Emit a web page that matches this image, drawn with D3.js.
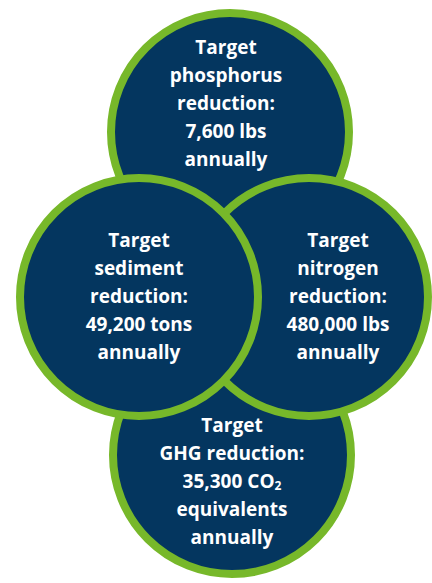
<!DOCTYPE html>
<html>
<head>
<meta charset="utf-8">
<script src="https://cdn.jsdelivr.net/npm/d3@7"></script>
<style>
  html, body { margin: 0; padding: 0; background: #fff; }
  svg { display: block; }
  .label { font-family: 'Open Sans', sans-serif; font-weight: 700; fill: #fff; }
</style>
</head>
<body>
<svg id="chart"></svg>
<script>
// targets, in the order the circles are stacked (back to front)
const targets = ['phosphorus', 'GHG', 'nitrogen', 'sediment'];
const labelLines = [
  ['Target', 'phosphorus', 'reduction:', '7,600 lbs', 'annually'],
  ['Target', 'GHG reduction:', '35,300 CO₂', 'equivalents', 'annually'],
  ['Target', 'nitrogen', 'reduction:', '480,000 lbs', 'annually'],
  ['Target', 'sediment', 'reduction:', '49,200 tons', 'annually'],
];

const width = 432;
const height = 583;
const navy = '#04365f';
const green = '#77b82a';

// layout of the cluster (circle centres and text anchors)
const layout = {
  phosphorus: { cx: 230, cy: 132, tx: 226, ty: 110 },
  GHG: { cx: 232, cy: 455, tx: 232, ty: 488 },
  nitrogen: { cx: 309, cy: 297, tx: 338, ty: 303 },
  sediment: { cx: 139, cy: 297, tx: 139, ty: 303 },
};
const r = 119;
const lineH = 28;

const svg = d3.select('#chart').attr('width', width).attr('height', height);

const groups = svg
  .selectAll('g.node')
  .data(targets)
  .join('g')
  .attr('class', 'node');

groups
  .append('circle')
  .attr('cx', (d) => layout[d].cx)
  .attr('cy', (d) => layout[d].cy)
  .attr('r', r)
  .attr('fill', navy)
  .attr('stroke', green)
  .attr('stroke-width', 8);

// text is drawn after all circles so overlaps never hide it
targets.forEach((t, i) => {
  const pos = layout[t];
  const lines = labelLines[i];
  const text = svg
    .append('text')
    .attr('class', 'label')
    .attr('text-anchor', 'middle')
    .attr('font-size', '19px');
  lines.forEach((line, j) => {
    const y = pos.ty + (j - 2) * lineH;
    const ts = text.append('tspan').attr('x', pos.tx).attr('y', y);
    if (line.includes('₂')) {
      // small lowered 2, like the subscript in CO₂
      ts.text(line.replace('₂', ''));
      ts.append('tspan').attr('font-size', '12px').attr('dy', 2).text('2');
    } else {
      ts.text(line);
    }
  });
});
</script>
</body>
</html>
